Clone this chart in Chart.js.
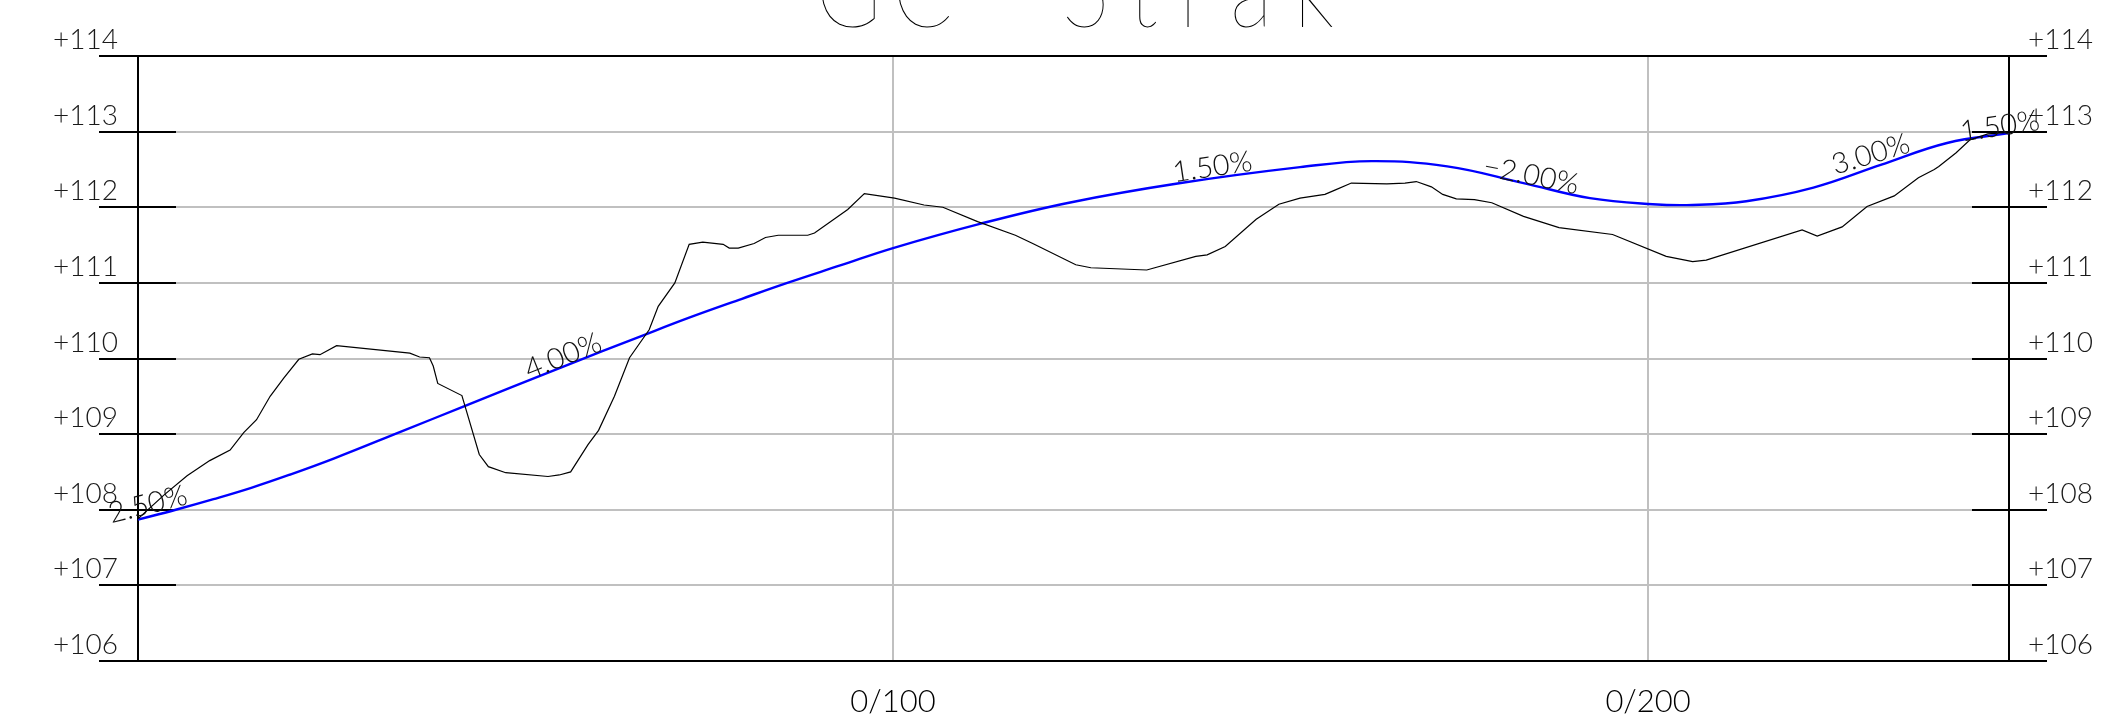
<!DOCTYPE html>
<html>
<head>
<meta charset="utf-8">
<title>GC - Strak</title>
<script src="https://cdn.jsdelivr.net/npm/chart.js@4"></script>
<style>
    body { margin: 0; background: #ffffff; }
    canvas { display: block; }
</style>
</head>
<body>
<canvas id="chart" width="2111" height="728"></canvas>
<script>
const chart1 = document.getElementById('chart');

const titleLeft = 'GC';
const titleRight = 'Strak';

// Existing ground (chainage, level)
const groundChainage = [0, 3.5, 6.5, 9.5, 12.2, 14.0, 15.7, 17.5, 19.3, 21.3, 23.1, 24.1, 26.3, 36.0, 37.3, 38.6, 39.1, 39.7,
    42.9, 45.2, 46.4, 48.7, 54.3, 55.8, 57.3, 59.6, 61.0, 63.1, 65.1, 67.7, 68.9, 71.1, 73.0, 74.8, 77.5, 78.3, 79.5,
    81.6, 83.1, 84.8, 88.7, 89.6, 94.0, 96.2, 100.2, 104.1, 106.6, 111.2, 116.2, 118.5, 124.2, 126.2, 133.6, 140.1,
    141.6, 144.0, 148.1, 151.1, 153.9, 157.2, 158.6, 160.7, 165.4, 167.8, 169.3, 171.3, 172.8, 174.6, 177.0, 179.3,
    183.5, 188.2, 195.3, 202.4, 205.9, 207.7, 220.4, 222.4, 225.7, 229.0, 232.6, 235.8, 237.9, 238.5, 240.8, 242.6,
    245.0, 247.8];
const groundLevel = [107.88, 108.20, 108.45, 108.65, 108.79, 109.02, 109.19, 109.50, 109.74, 109.99, 110.06, 110.05, 110.17,
    110.07, 110.02, 110.01, 109.90, 109.67, 109.51, 108.73, 108.57, 108.49, 108.44, 108.46, 108.50, 108.86, 109.05,
    109.50, 110.01, 110.38, 110.69, 111.00, 111.51, 111.54, 111.51, 111.46, 111.46, 111.52, 111.60, 111.63, 111.63,
    111.66, 111.97, 112.18, 112.12, 112.03, 112.00, 111.81, 111.63, 111.52, 111.24, 111.20, 111.17, 111.35, 111.37,
    111.48, 111.84, 112.04, 112.12, 112.17, 112.23, 112.32, 112.31, 112.32, 112.34, 112.27, 112.17, 112.11, 112.10,
    112.06, 111.88, 111.73, 111.64, 111.35, 111.28, 111.30, 111.70, 111.62, 111.74, 112.01, 112.15, 112.39, 112.50,
    112.54, 112.72, 112.89, 112.97, 112.99];

// Design profile (chainage, level)
const designChainage = [0, 5, 10, 15, 20, 26, 35, 43, 56, 67, 73, 80, 86, 93, 100, 111.5, 123.3,
    138.1, 153.9, 163.4, 173.4, 183.5, 192.3, 200.6, 205.9, 213.0, 221.9, 230.8, 239.6, 247.8];
const designLevel = [107.87, 108.00, 108.14, 108.29, 108.46, 108.68, 109.04, 109.36, 109.88, 110.31, 110.54, 110.79,
    111.00, 111.23, 111.46, 111.78, 112.06, 112.32, 112.53, 112.61, 112.54, 112.32, 112.12, 112.04, 112.03, 112.08,
    112.26, 112.56, 112.85, 112.98];

// Grade labels along the design line
const gradeText = ['2.50%', '4.00%', '1.50%', '\u22122.00%', '3.00%', '1.50%'];
const gradeValue = [2.5, 4.0, 1.5, -2.0, 3.0, 1.5];
const gradeChainage = [1.3, 56.3, 142.3, 184.5, 229.5, 246.6];
const gradeLevel = [108.07, 110.03, 112.53, 112.42, 112.70, 113.07];

// Axis labels
const levelTicks = [106, 107, 108, 109, 110, 111, 112, 113, 114];
const chainageTicks = [100, 200];
const chainageLabels = ['0/100', '0/200'];

function toPoints(xs, ys) {
    return xs.map((x, i) => ({ x: x, y: ys[i] }));
}

// Function to draw a string squeezed horizontally and spread over a given span
function drawSpread(ctx, text, left, base, span, squeeze) {
    ctx.save();
    ctx.letterSpacing = '0px';
    const natural = ctx.measureText(text).width;
    const gap = text.length > 1 ? (span / squeeze - natural) / (text.length - 1) : 0;
    ctx.letterSpacing = gap.toFixed(1) + 'px';
    ctx.translate(left, base);
    ctx.scale(squeeze, 1);
    ctx.fillText(text, 0, 0);
    ctx.restore();
}

// Plugin for the frame, tick marks, labels and title (CAD style)
const profileDecor = {
    id: 'profileDecor',
    beforeDatasetsDraw(chart) {
        const ctx = chart.ctx;
        const area = chart.chartArea;
        const yScale = chart.scales.y;
        ctx.save();
        ctx.strokeStyle = '#000000';
        ctx.lineWidth = 2;
        ctx.strokeRect(area.left, area.top, area.right - area.left, area.bottom - area.top);

        // tick marks both sides
        levelTicks.forEach((v) => {
            const py = Math.round(yScale.getPixelForValue(v));
            ctx.beginPath();
            ctx.moveTo(area.left - 39, py);
            ctx.lineTo(area.left + 38, py);
            ctx.moveTo(area.right - 37, py);
            ctx.lineTo(area.right + 38, py);
            ctx.stroke();
        });
        ctx.restore();
    },
    afterDatasetsDraw(chart) {
        const ctx = chart.ctx;
        const area = chart.chartArea;
        const xScale = chart.scales.x;
        const yScale = chart.scales.y;
        ctx.save();

        // level labels
        ctx.fillStyle = '#1a1a1a';
        ctx.font = '300 28px Lato, "DejaVu Sans", sans-serif';
        ctx.textBaseline = 'alphabetic';
        levelTicks.forEach((v) => {
            const py = yScale.getPixelForValue(v);
            ctx.textAlign = 'right';
            ctx.fillText('+' + v, area.left - 20, py - 7);
            ctx.textAlign = 'left';
            ctx.fillText('+' + v, area.right + 19, py - 7);
        });

        // chainage labels
        ctx.fillStyle = '#000000';
        ctx.font = '300 31px Lato, "DejaVu Sans", sans-serif';
        ctx.textAlign = 'center';
        chainageTicks.forEach((c, i) => {
            ctx.fillText(chainageLabels[i], xScale.getPixelForValue(c), area.bottom + 51);
        });

        // grade labels, rotated to the exaggerated slope
        const pxPerM = xScale.getPixelForValue(1) - xScale.getPixelForValue(0);
        const pyPerM = yScale.getPixelForValue(106) - yScale.getPixelForValue(107);
        ctx.font = '300 29px Lato, "DejaVu Sans", sans-serif';
        ctx.fillStyle = '#111111';
        ctx.textBaseline = 'middle';
        gradeText.forEach((t, i) => {
            const angle = Math.atan(gradeValue[i] / 100 * pyPerM / pxPerM);
            ctx.save();
            ctx.translate(xScale.getPixelForValue(gradeChainage[i]), yScale.getPixelForValue(gradeLevel[i]));
            ctx.rotate(-angle);
            ctx.fillText(t, 0, 0);
            ctx.restore();
        });

        // title, cut by the top edge
        ctx.font = '100 112px Lato, "DejaVu Sans", sans-serif';
        ctx.textAlign = 'left';
        ctx.textBaseline = 'alphabetic';
        ctx.fillStyle = '#000000';
        drawSpread(ctx, titleLeft, 815, 27, 138, 0.8);
        drawSpread(ctx, '-', 990, 27, 30, 0.8);
        drawSpread(ctx, titleRight, 1062, 27, 272, 0.8);
        ctx.restore();
    }
};

new Chart(chart1, {
    type: 'line',
    data: {
        datasets: [
            {
                label: 'Ground',
                data: toPoints(groundChainage, groundLevel),
                borderColor: '#000000',
                borderWidth: 1.2,
                pointRadius: 0,
                tension: 0,
            },
            {
                label: 'Design',
                data: toPoints(designChainage, designLevel),
                borderColor: '#0000ff',
                borderWidth: 2.4,
                pointRadius: 0,
                tension: 0.4,
            },
        ],
    },
    options: {
        responsive: false,
        animation: false,
        devicePixelRatio: 1,
        layout: {
            padding: { left: 138, right: 102, top: 56, bottom: 67 },
        },
        plugins: {
            legend: { display: false },
            tooltip: { enabled: false },
        },
        scales: {
            x: {
                type: 'linear',
                min: 0,
                max: 247.8,
                ticks: { display: false, stepSize: 100 },
                grid: { color: '#c0c0c0', lineWidth: 2, drawTicks: false },
                border: { display: false },
            },
            y: {
                type: 'linear',
                min: 106,
                max: 114,
                ticks: { display: false, stepSize: 1 },
                grid: { color: '#c0c0c0', lineWidth: 2, drawTicks: false },
                border: { display: false },
            },
        },
    },
    plugins: [profileDecor],
});
</script>
</body>
</html>
